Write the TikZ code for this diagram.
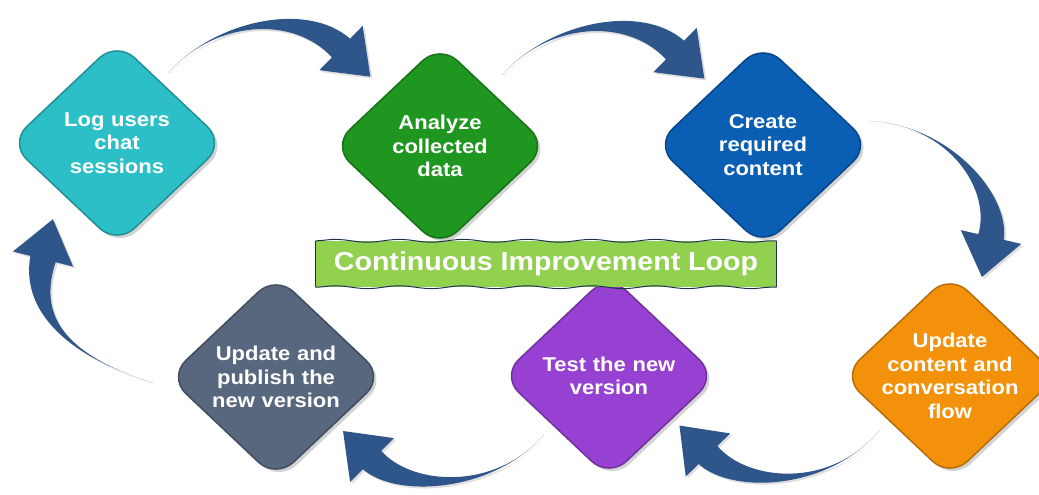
\documentclass[tikz,border=0pt]{standalone}
\usepackage{fontspec}
\setmainfont{Liberation Sans}
\newfontfamily\stepfont{Liberation Sans}[FakeStretch=1.1]
\usetikzlibrary{shapes.geometric,shadows,calc,decorations.pathmorphing}

\definecolor{logcyan}{RGB}{45,191,199}
\definecolor{anagreen}{RGB}{31,150,31}
\definecolor{creblue}{RGB}{10,95,180}
\definecolor{updorange}{RGB}{243,146,10}
\definecolor{testpurple}{RGB}{150,65,210}
\definecolor{pubslate}{RGB}{87,103,125}
\definecolor{arrowblue}{RGB}{47,86,138}
\definecolor{bannergreen}{RGB}{146,208,80}
\definecolor{bannerline}{RGB}{30,50,80}

\tikzset{
	stepbox/.style={diamond, rounded corners=24pt, minimum width=216pt, minimum height=204pt,
		inner sep=-30pt, text width=150pt, align=center, text=white, line width=1.5pt,
		font=\stepfont\bfseries\fontsize{20}{23.5}\selectfont,
		fill=#1, draw=#1!75!black,
		drop shadow={shadow xshift=3pt, shadow yshift=-3pt, opacity=.35}},
	looparrow/.style={fill=arrowblue, drop shadow={shadow xshift=2pt, shadow yshift=-2pt, opacity=.25}},
	banner/.style={fill=bannergreen, minimum width=461pt, minimum height=46pt, text=white,
		font=\stepfont\bfseries\fontsize{26}{30}\selectfont},
	wavy/.style={draw=bannerline, line width=1pt, decorate,
		decoration={snake, amplitude=1.4pt, segment length=64pt}}
}

% tapered arrow: tail, control 1, control 2, head base
\newcommand{\loopArrow}[4]{%
	\fill[looparrow] (#1) .. controls (#2) and ($(#3)!10pt!-90:(#4)$) .. ($(#4)!13pt!90:(#3)$)
	-- ($(#4)!31pt!90:(#3)$) -- ($(#4)!41pt!180:(#3)$) -- ($(#4)!31pt!-90:(#3)$)
	-- ($(#4)!13pt!-90:(#3)$) .. controls ($(#3)!10pt!90:(#4)$) and (#2) .. (#1) -- cycle;}

\begin{document}
\begin{tikzpicture}[x=1pt, y=-1pt]
	\useasboundingbox (0,0) rectangle (1039,495);
	% steps of the loop
	\node[stepbox=logcyan] (log) at (117,143) {Log users\\chat\\sessions};
	\node[stepbox=anagreen] (analyze) at (440,146) {Analyze\\collected\\data};
	\node[stepbox=creblue] (create) at (763,145) {Create\\required\\content};
	\node[stepbox=updorange] (update) at (950,376) {Update\\content and\\conversation\\flow};
	\node[stepbox=testpurple] (test) at (609,376) {Test the new\\version};
	\node[stepbox=pubslate] (publish) at (276,377) {Update and\\publish the\\new version};
	
	% title banner
	\node[banner] (loop) at (546,264) {Continuous Improvement Loop};
	\draw[wavy] (loop.north west) -- (loop.north east);
	\draw[wavy] (loop.south west) -- (loop.south east);
	\draw[bannerline, line width=1pt] (loop.north west) -- (loop.south west)
	(loop.north east) -- (loop.south east);
	
	% arrow points
	\coordinate (a1-t) at (168,73);  \coordinate (a1-c) at (215,20);
	\coordinate (a1-d) at (300,8);   \coordinate (a1-b) at (341,48);
	\coordinate (a2-t) at (502,75);  \coordinate (a2-c) at (549,22);
	\coordinate (a2-d) at (634,10);  \coordinate (a2-b) at (675,50);
	\coordinate (a3-t) at (870,121); \coordinate (a3-c) at (950,125);
	\coordinate (a3-d) at (1001,193);\coordinate (a3-b) at (991,237);
	\coordinate (a4-t) at (880,430); \coordinate (a4-c) at (830,490);
	\coordinate (a4-d) at (740,488); \coordinate (a4-b) at (708,455);
	\coordinate (a5-t) at (544,435); \coordinate (a5-c) at (494,492);
	\coordinate (a5-d) at (404,492); \coordinate (a5-b) at (372,460);
	\coordinate (a6-t) at (153,383); \coordinate (a6-c) at (50,350);
	\coordinate (a6-d) at (32,303);  \coordinate (a6-b) at (43,259);
	
	\foreach \a in {a1,a2,a3,a4,a5,a6}
	\loopArrow{\a-t}{\a-c}{\a-d}{\a-b};
\end{tikzpicture}
\end{document}
